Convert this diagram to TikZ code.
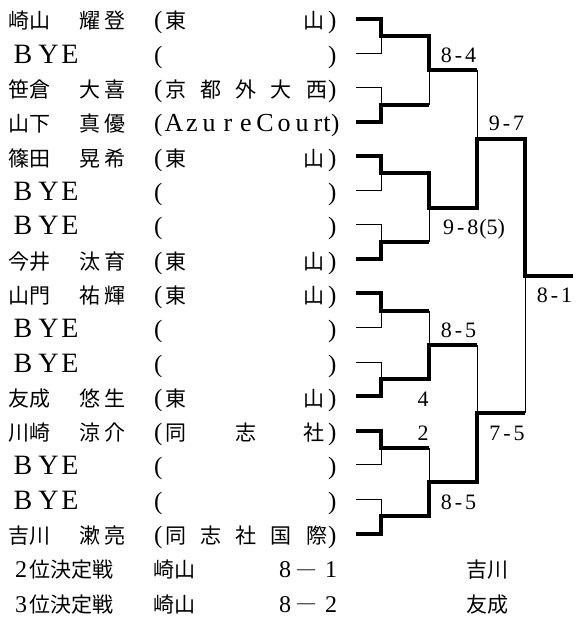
\documentclass[tikz,border=0pt]{standalone}
\usepackage{fontspec}
\setmainfont{Liberation Serif}
\newfontfamily\jp{Noto Sans CJK JP}
\tikzset{
  kj/.style={inner sep=0pt, outer sep=0pt, anchor=base west, font=\jp\fontsize{21}{21}\selectfont},
  kjc/.style={kj, anchor=base},
  lt/.style={inner sep=0pt, outer sep=0pt, anchor=base, font=\fontsize{28}{28}\selectfont},
  az/.style={inner sep=0pt, outer sep=0pt, anchor=base, font=\fontsize{26}{26}\selectfont},
  dg/.style={inner sep=0pt, outer sep=0pt, anchor=base, font=\fontsize{24}{24}\selectfont},
  mn/.style={inner sep=0pt, outer sep=0pt, anchor=base, font=\fontsize{18}{18}\selectfont},
  par/.style={inner sep=0pt, outer sep=0pt, anchor=base west, font=\fontsize{25}{25}\selectfont},
  score/.style={inner sep=0pt, outer sep=0pt, anchor=base, font=\fontsize{22}{22}\selectfont},
  win/.style={line width=4pt, line join=miter, line cap=butt},
  lose/.style={line width=1pt, line join=miter, line cap=butt},
}
\newcommand\pname[5]{\node[kj] (#1s) at (9,#2) {#3}; \node[kjc] (#1g) at (90,#2) {#4}; \node[kjc] (#1h) at (115,#2) {#5};}
\newcommand\pbye[2]{\node[lt] (#1b) at (23,#2) {B}; \node[lt] (#1y) at (48.5,#2) {Y}; \node[lt] (#1e) at (70,#2) {E};}
\newcommand\pparen[2]{\node[par] (#1l) at (154,#2) {(}; \node[par] (#1r) at (328,#2) {)};}
\newcommand\tmtwo[4]{\node[kjc] (#1t1) at (176,#2) {#3}; \node[kjc] (#1t5) at (314,#2) {#4};}
\newcommand\scr[2]{#1\kern3pt-\kern3pt#2}
\newcommand\mdash{\raisebox{3.4pt}{—}}
\begin{document}
\begin{tikzpicture}[x=1pt,y=-1pt]
\useasboundingbox (0,0) rectangle (581,617);
\fill[white] (0,0) rectangle (581,617);

% ---- player rows ----
\pname{p1}{29}{崎山}{耀}{登} \pparen{p1}{29} \tmtwo{p1}{29}{東}{山}
\pbye{p2}{63.3} \pparen{p2}{63.3}
\pname{p3}{97.6}{笹倉}{大}{喜} \pparen{p3}{97.6}
\node[kjc] (p3t1) at (176,97.6) {京};
\node[kjc] (p3t2) at (211,97.6) {都};
\node[kjc] (p3t3) at (246,97.6) {外};
\node[kjc] (p3t4) at (281,97.6) {大};
\node[kjc] (p3t5) at (317,97.6) {西};
\pname{p4}{131.9}{山下}{真}{優}
\node[par] (p4l) at (154,131.9) {(};
\node[par] (p4r) at (331,131.9) {)};
\node[az] (p4c1) at (174,131.9) {A};
\node[az] (p4c2) at (192,131.9) {z};
\node[az] (p4c3) at (209,131.9) {u};
\node[az] (p4c4) at (228,131.9) {r};
\node[az] (p4c5) at (246,131.9) {e};
\node[az] (p4c6) at (265,131.9) {C};
\node[az] (p4c7) at (284,131.9) {o};
\node[az] (p4c8) at (302,131.9) {u};
\node[az] (p4c9) at (318,131.9) {r};
\node[az] (p4c10) at (327,131.9) {t};
\pname{p5}{166.2}{篠田}{晃}{希} \pparen{p5}{166.2} \tmtwo{p5}{166.2}{東}{山}
\pbye{p6}{200.5} \pparen{p6}{200.5}
\pbye{p7}{234.8} \pparen{p7}{234.8}
\pname{p8}{269.1}{今井}{汰}{育} \pparen{p8}{269.1} \tmtwo{p8}{269.1}{東}{山}
\pname{p9}{303.4}{山門}{祐}{輝} \pparen{p9}{303.4} \tmtwo{p9}{303.4}{東}{山}
\pbye{p10}{337.7} \pparen{p10}{337.7}
\pbye{p11}{372} \pparen{p11}{372}
\pname{p12}{406.3}{友成}{悠}{生} \pparen{p12}{406.3} \tmtwo{p12}{406.3}{東}{山}
\pname{p13}{440.6}{川崎}{涼}{介} \pparen{p13}{440.6} \tmtwo{p13}{440.6}{同}{社}
\node[kjc] (p13t3) at (246,440.6) {志};
\pbye{p14}{474.9} \pparen{p14}{474.9}
\pbye{p15}{509.2} \pparen{p15}{509.2}
\pname{p16}{543.5}{吉川}{漱}{亮} \pparen{p16}{543.5}
\node[kjc] (p16t1) at (176,543.5) {同};
\node[kjc] (p16t2) at (211,543.5) {志};
\node[kjc] (p16t3) at (246,543.5) {社};
\node[kjc] (p16t4) at (281,543.5) {国};
\node[kjc] (p16t5) at (317,543.5) {際};

% ---- placement matches ----
\node[dg] (q2n) at (21,577.8) {2};
\node[kj] (q2a) at (29.5,577.8) {位決定戦};
\node[kj] (q2b) at (153,577.8) {崎山};
\node[dg] (q2c) at (285,577.8) {8};
\node[mn] (q2d) at (306,577.8) {\mdash};
\node[dg] (q2e) at (331,577.8) {1};
\node[kj] (q2f) at (466,577.8) {吉川};
\node[dg] (q3n) at (21,612.1) {3};
\node[kj] (q3a) at (29.5,612.1) {位決定戦};
\node[kj] (q3b) at (153,612.1) {崎山};
\node[dg] (q3c) at (285,612.1) {8};
\node[mn] (q3d) at (306,612.1) {\mdash};
\node[dg] (q3e) at (331,612.1) {2};
\node[kj] (q3f) at (466,612.1) {友成};

% ---- bracket coordinates ----
\foreach \i/\y in {1/19,2/53.3,3/87.6,4/121.9,5/156.2,6/190.5,7/224.8,8/259.1,
                   9/293.4,10/327.7,11/362,12/396.3,13/430.6,14/464.9,15/499.2,16/533.5}{
  \coordinate (r\i) at (356,\y);
  \coordinate (a\i) at (381,\y);
}
\foreach \k/\m in {1/36.15,2/104.75,3/173.35,4/241.95,5/310.55,6/379.15,7/447.75,8/516.35}{
  \coordinate (b\k) at (381,\m);
  \coordinate (c\k) at (429,\m);
}
\foreach \k/\m in {1/70.45,2/207.65,3/344.85,4/482.05}{
  \coordinate (e\k) at (429,\m);
  \coordinate (f\k) at (477,\m);
}
\foreach \k/\m in {1/139.05,2/413.45}{
  \coordinate (g\k) at (477,\m);
  \coordinate (h\k) at (525,\m);
}
\coordinate (fi) at (525,276.25);
\coordinate (fj) at (573,276.25);

% ---- losing lines ----
\draw[lose] (r2) -- (a2) -- (b1);
\draw[lose] (r3) -- (a3) -- (b2);
\draw[lose] (r6) -- (a6) -- (b3);
\draw[lose] (r7) -- (a7) -- (b4);
\draw[lose] (r10) -- (a10) -- (b5);
\draw[lose] (r11) -- (a11) -- (b6);
\draw[lose] (r14) -- (a14) -- (b7);
\draw[lose] (r15) -- (a15) -- (b8);
\draw[lose] (c2) -- (e1);
\draw[lose] (c4) -- (e2);
\draw[lose] (c5) -- (e3);
\draw[lose] (c7) -- (e4);
\draw[lose] (f1) -- (g1);
\draw[lose] (f3) -- (g2);
\draw[lose] (h2) -- (fi);

% ---- winning lines ----
\draw[win] (r1) -- (a1) -- (b1) -- (c1) -- (e1) -- (f1);
\draw[win] (r4) -- (a4) -- (b2) -- (c2);
\draw[win] (r5) -- (a5) -- (b3) -- (c3) -- (e2) -- (f2) -- (g1) -- (h1) -- (fi) -- (fj);
\draw[win] (r8) -- (a8) -- (b4) -- (c4);
\draw[win] (r9) -- (a9) -- (b5) -- (c5);
\draw[win] (r12) -- (a12) -- (b6) -- (c6) -- (e3) -- (f3);
\draw[win] (r13) -- (a13) -- (b7) -- (c7);
\draw[win] (r16) -- (a16) -- (b8) -- (c8) -- (e4) -- (f4) -- (g2) -- (h2);

% ---- scores ----
\node[score] (s84) at (458.5,62.4) {\scr{8}{4}};
\node[score] (s97) at (506.5,130.4) {\scr{9}{7}};
\node[score] (s98) at (474,234.4) {\scr{9}{8}\kern1pt(5)};
\node[score] (s81) at (554.5,302.4) {\scr{8}{1}};
\node[score] (s85a) at (458.5,337.4) {\scr{8}{5}};
\node[score] (s4) at (423,406.4) {4};
\node[score] (s2) at (423,440.4) {2};
\node[score] (s75) at (507,440.4) {\scr{7}{5}};
\node[score] (s85b) at (458.5,509.4) {\scr{8}{5}};
\end{tikzpicture}
\end{document}
